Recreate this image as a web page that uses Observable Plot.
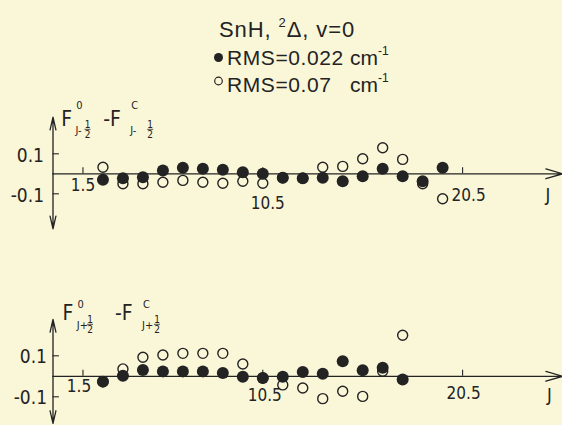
<!DOCTYPE html>
<html><head><meta charset="utf-8">
<script src="https://cdn.jsdelivr.net/npm/d3@7"></script>
<script src="https://cdn.jsdelivr.net/npm/@observablehq/plot@0.6"></script>
<style>
html,body{margin:0;padding:0;background:#faf7d9;}
#chart{width:562px;height:425px;position:relative;overflow:hidden;background:#faf7d9;}
#chart svg{display:block;}
</style></head><body><div id="chart"></div>
<script>
// ---- data ----
const upperJ = [2.5,3.5,4.5,5.5,6.5,7.5,8.5,9.5,10.5,11.5,12.5,13.5,14.5,15.5,16.5,17.5,18.5,19.5];
const upperFilled = [-0.030,-0.022,-0.017,0.017,0.030,0.025,0.020,0.008,0.000,-0.020,-0.022,-0.020,-0.037,-0.012,0.025,-0.012,-0.037,0.030];
const upperOpen   = [0.033,-0.050,-0.050,-0.042,-0.033,-0.042,-0.047,-0.037,-0.047,-0.020,-0.022,0.033,0.037,0.075,0.130,0.072,-0.050,-0.125];
const lowerJ = [2.5,3.5,4.5,5.5,6.5,7.5,8.5,9.5,10.5,11.5,12.5,13.5,14.5,15.5,16.5,17.5];
const lowerFilled = [-0.026,0.003,0.031,0.024,0.024,0.024,0.016,-0.002,-0.008,-0.002,0.021,0.013,0.073,0.029,0.042,-0.016];
const lowerOpen   = [-0.026,0.036,0.093,0.104,0.112,0.112,0.112,0.060,-0.008,-0.042,-0.057,-0.109,-0.073,-0.098,0.025,0.200];
const xTicks = [1.5, 10.5, 20.5];
const yTicks = [-0.1, 0.1];
const titleText = ["SnH, ", "2", "Δ, v=0"];
const legendLabels = ["RMS=0.022", "RMS=0.07"];
const unitText = ["cm", "-1"];
const upperLabel = {sign: "-"};
const lowerLabel = {sign: "+"};

// ---- styling ----
const INK = "#232323";
const NARROW = '"Liberation Sans Narrow", "DejaVu Sans Condensed", "Liberation Sans", sans-serif';
const WIDE = '"Liberation Sans", Arial, sans-serif';
const xAxisEnd = 25.5;

const chart = document.getElementById("chart");

// ---- header (title + legend) ----
const header = d3.create("svg").attr("width", 562).attr("height", 95)
  .style("font-family", WIDE).attr("fill", INK);
const t1 = header.append("text").attr("x", 219).attr("y", 37).attr("font-size", 22).attr("letter-spacing", 0.9);
t1.append("tspan").text(titleText[0]);
t1.append("tspan").attr("dy", -10).attr("font-size", 13).text(titleText[1]);
t1.append("tspan").attr("dy", 10).text(titleText[2]);
const legendRows = [{y: 65, cy: 57.5, filled: true}, {y: 91.5, cy: 81, filled: false}];
legendRows.forEach((r, i) => {
  header.append("circle").attr("cx", 218.5).attr("cy", r.cy).attr("r", r.filled ? 4.5 : 3.8)
    .attr("fill", r.filled ? INK : "none").attr("stroke", INK).attr("stroke-width", r.filled ? 0 : 1.2);
  header.append("text").attr("x", 227).attr("y", r.y).attr("font-size", 21).attr("letter-spacing", 0.6).text(legendLabels[i]);
  const u = header.append("text").attr("x", 350).attr("y", r.y).attr("font-size", 21);
  u.append("tspan").text(unitText[0]);
  u.append("tspan").attr("dy", -10).attr("font-size", 12).text(unitText[1]);
});
chart.appendChild(header.node());

// ---- panels ----
function rows(J, v) { return J.map((j, i) => ({J: j, d: v[i]})); }

function panel(cfg) {
  const open = rows(cfg.J, cfg.open), filled = rows(cfg.J, cfg.filled);
  const svg = Plot.plot({
    width: 562, height: cfg.height,
    marginLeft: 52.5, marginRight: 0, marginTop: cfg.marginTop, marginBottom: cfg.marginBottom,
    x: {domain: [0, xAxisEnd], axis: null},
    y: {domain: cfg.yDomain},
    style: {background: "transparent", color: INK, fontFamily: NARROW, fontSize: "19px", overflow: "visible"},
    marks: [
      Plot.arrow([0], {x1: 0, y1: 0, x2: xAxisEnd, y2: 0, stroke: INK, strokeWidth: 1.3, headAngle: 33, headLength: 20}),
      Plot.arrow([0], {x1: 0, y1: 0, x2: 0, y2: cfg.yArrow[1], stroke: INK, strokeWidth: 1.3, headAngle: 26, headLength: 15}),
      Plot.arrow([0], {x1: 0, y1: 0, x2: 0, y2: cfg.yArrow[0], stroke: INK, strokeWidth: 1.3, headAngle: 26, headLength: 15}),
      Plot.ruleX(xTicks, {x: d => d, y1: 0, y2: cfg.xTickLen, stroke: INK, strokeWidth: 1.1}),
      Plot.ruleY(yTicks, {y: d => d, x1: 0, x2: 0.32, stroke: INK, strokeWidth: 1.1}),
      Plot.axisY({ticks: yTicks, anchor: "left", tickSize: 0, tickPadding: cfg.yPad, tickFormat: d => String(d), label: null, dy: cfg.yDy, fontSize: 19}),
      ...xTicks.map((t, i) => Plot.text([t], {x: d => d, y: 0, text: d => d.toFixed(1), dx: cfg.xLab[i][0], dy: cfg.xLab[i][1], fontSize: 17, fill: INK})),
      Plot.text(["J"], {x: xAxisEnd, y: 0, text: d => d, dx: cfg.jDx, dy: cfg.jDy, fontSize: 18, fill: INK}),
      Plot.dot(open, {x: "J", y: "d", r: 5, stroke: INK, strokeWidth: 1.4, fill: "none"}),
      Plot.dot(filled, {x: "J", y: "d", r: 6, fill: INK, stroke: "none"})
    ]
  });
  // composite y-axis label  F^0_{J±1/2} - F^C_{J±1/2}
  const ox = svg.scale("x").apply(0), oy = svg.scale("y").apply(0);
  const g = d3.select(svg).append("g").attr("fill", INK).style("font-family", NARROW);
  const L = cfg.lab, s = cfg.sign;
  const put = (txt, dx, dy, size, anchor = "start") =>
    g.append("text").attr("x", ox + dx).attr("y", oy + dy).attr("font-size", size).attr("text-anchor", anchor).text(txt);
  const frac = (cx, base) => {
    put("1", cx, base, 10, "middle");
    g.append("line").attr("x1", ox + cx - 3).attr("x2", ox + cx + 3).attr("y1", oy + base + 1.8).attr("y2", oy + base + 1.8)
      .attr("stroke", INK).attr("stroke-width", 0.8);
    put("2", cx, base + 10.5, 10, "middle");
  };
  put("F", L.f1, L.fy, 21);
  put("0", L.f1 + 15, L.supY, 11);
  put("J" + s, L.f1 + 14.3, L.subY, 11);
  frac(L.fr1, L.fracY);
  put("-F", L.f2, L.fy, 21);
  put("C", L.f2 + 28, L.supY + 0.5, 11);
  put("J" + s, L.f2 + 27, L.subY, 11);
  frac(L.fr2, L.fracY);
  return svg;
}

chart.appendChild(panel({
  J: upperJ, filled: upperFilled, open: upperOpen, sign: upperLabel.sign,
  height: 195, marginTop: 18.3, marginBottom: 16.7, yDomain: [-0.5, 0.3], yArrow: [-0.275, 0.283],
  xTickLen: 0.03, yPad: 9, yDy: 2, xLab: [[0, 12], [5, 30], [6, 22]], jDx: -14.5, jDy: 21.7,
  lab: {f1: 8.7, f2: 50.7, fy: -47.8, supY: -64.8, subY: -39.8, fr1: 35, fr2: 97.7, fracY: -45.8}
}));
chart.appendChild(panel({
  J: lowerJ, filled: lowerFilled, open: lowerOpen, sign: lowerLabel.sign,
  height: 135, marginTop: 18.15, marginBottom: 2.05, yDomain: [-0.23, 0.33], yArrow: [-0.23, 0.277],
  xTickLen: 0.03, yPad: 6, yDy: 1, xLab: [[-4, 10], [2, 19], [1, 17]], jDx: -13, jDy: 19.2,
  lab: {f1: 10, f2: 62.5, fy: -55.8, supY: -68.3, subY: -47.3, fr1: 37.5, fr2: 104.5, fracY: -53.3}
}));
</script></body></html>
